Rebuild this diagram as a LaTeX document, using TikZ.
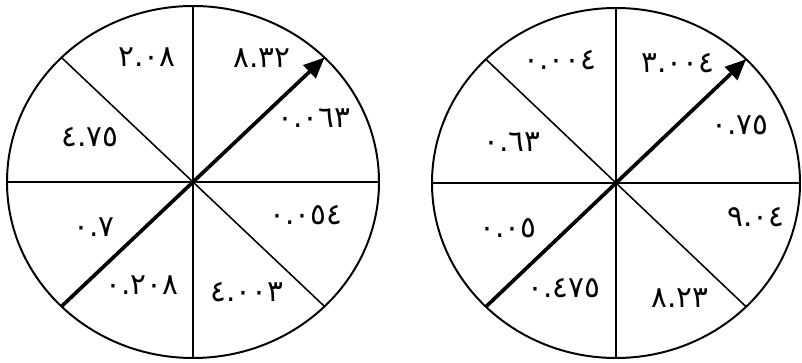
\documentclass[tikz,border=0pt]{standalone}
\usepackage{fontspec}
\newfontfamily\arabicfont[Script=Arabic]{DejaVu Sans}
\usetikzlibrary{arrows.meta}

\tikzset{
  rim/.style={line width=1.4pt},
  spoke/.style={line width=1.1pt},
  pointer/.style={line width=2.6pt, -{Triangle[length=0.52cm, width=0.44cm]}},
  num/.style={inner sep=0pt, font=\arabicfont\fontsize{21}{24}\selectfont}
}

\begin{document}
\begin{tikzpicture}[x=0.025cm,y=0.025cm]
    \useasboundingbox (0,0) rectangle (802,362);

    % left wheel
    \coordinate (lc) at (193,180);
    \draw[rim] (lc) ellipse [x radius=186, y radius=176];
    \foreach \a in {0,45,...,315}
      \draw[spoke] (lc) -- +(\a:186 and 176);
    \path (lc) +(225:186 and 176) coordinate (ltail)
               +(45:186 and 176) coordinate (lhead);
    \draw[pointer] (ltail) -- (lhead);

    \node[num] (la) at (147,305) {٢.٠٨};
    \node[num] (lb) at (262,304) {٨.٣٢};
    \node[num] (lc1) at (314,244) {٠.٠٦٣};
    \node[num] (ld) at (90,225) {٤.٧٥};
    \node[num] (le) at (94,135) {٠.٧};
    \node[num] (lf) at (306,147) {٠.٠٥٤};
    \node[num] (lg) at (142,77) {٠.٢٠٨};
    \node[num] (lh) at (247,70) {٤.٠٠٣};

    % right wheel
    \coordinate (rc) at (616,179);
    \draw[rim] (rc) ellipse [x radius=184, y radius=175];
    \foreach \a in {0,45,...,315}
      \draw[spoke] (rc) -- +(\a:184 and 175);
    \path (rc) +(225:184 and 175) coordinate (rtail)
               +(45:184 and 175) coordinate (rhead);
    \draw[pointer] (rtail) -- (rhead);

    \node[num] (ra) at (560,302) {٠.٠٠٤};
    \node[num] (rb) at (678,299) {٣.٠٠٤};
    \node[num] (rc1) at (740,237) {٠.٧٥};
    \node[num] (rd) at (512,220) {٠.٦٣};
    \node[num] (re) at (508,134) {٠.٠٥};
    \node[num] (rf) at (756,145) {٩.٠٤};
    \node[num] (rg) at (564,74) {٠.٤٧٥};
    \node[num] (rh) at (680,64) {٨.٢٣};
  \end{tikzpicture}
\end{document}
